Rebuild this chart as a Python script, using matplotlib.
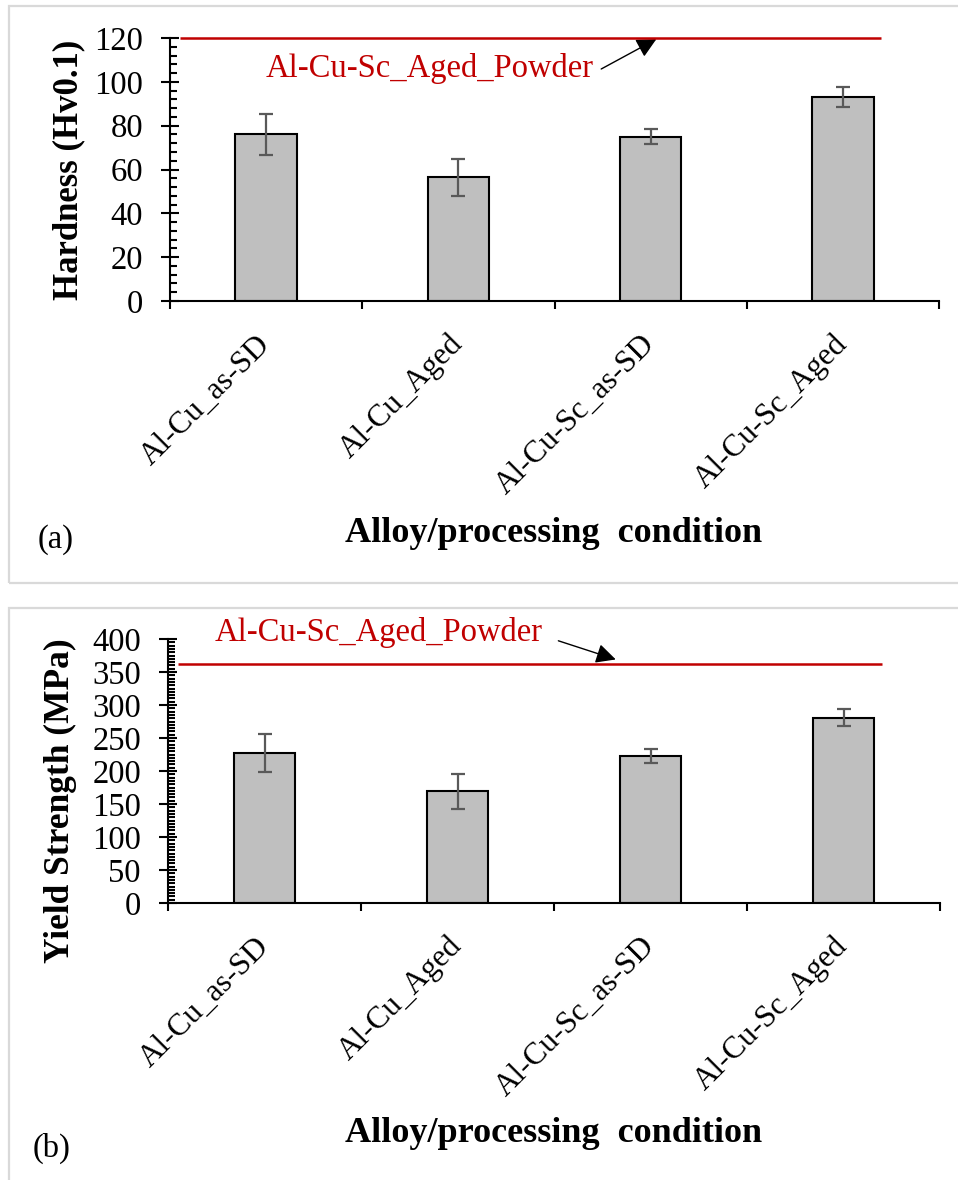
import numpy as np
import matplotlib
matplotlib.use('Agg')
import matplotlib.pyplot as plt
from matplotlib.patches import Rectangle
from matplotlib.ticker import MultipleLocator

# Times-like font (Liberation Serif has Times metrics)
plt.rcParams['font.family'] = ['Liberation Serif', 'DejaVu Serif']

# values
conditions = ['Al-Cu_as-SD', 'Al-Cu_Aged', 'Al-Cu-Sc_as-SD', 'Al-Cu-Sc_Aged']
hardness = [76, 56.5, 75, 93]
hardness_err = [9.5, 8.5, 3.5, 4.5]
hardness_powder = 120
yield_strength = [227, 169, 223, 281]
yield_err = [29, 26.5, 10.5, 13]
yield_powder = 362
powder_label = 'Al-Cu-Sc_Aged_Powder'

W, H = 958, 1180
fig = plt.figure(figsize=(W / 100, H / 100), dpi=100)


def px_rect(x0, y0, x1, y1):
    # pixel box (top-left origin) -> figure fraction [l, b, w, h]
    return [x0 / W, 1 - y1 / H, (x1 - x0) / W, (y1 - y0) / H]


# light grey frames round the two panels
fig.add_artist(Rectangle((9 / W, 1 - 583 / H), 1.0, (583 - 6) / H, transform=fig.transFigure,
                         fill=False, edgecolor='#d9d9d9', linewidth=1.6))
fig.add_artist(Rectangle((9 / W, -0.1), 1.0, 1 - 608 / H + 0.1, transform=fig.transFigure,
                         fill=False, edgecolor='#d9d9d9', linewidth=1.6))

ax1 = fig.add_axes(px_rect(170, 38, 939, 301))
ax2 = fig.add_axes(px_rect(168, 639, 940, 903))

panels = [
    (ax1, hardness, hardness_err, hardness_powder, 120, 20, 4),
    (ax2, yield_strength, yield_err, yield_powder, 400, 50, 5),
]

x = np.arange(len(conditions))
for ax, vals, errs, powder, ymax, major, minor in panels:
    ax.bar(x, vals, width=0.32, color='#bfbfbf', edgecolor='black', linewidth=1.5, zorder=2)
    ax.errorbar(x, vals, yerr=errs, fmt='none', ecolor='#595959', elinewidth=1.6,
                capsize=4.7, capthick=1.6, zorder=3)
    ax.set_xlim(-0.5, len(conditions) - 0.5)
    ax.set_ylim(0, ymax)
    for s in ['top', 'right']:
        ax.spines[s].set_visible(False)
    for s in ['left', 'bottom']:
        ax.spines[s].set_linewidth(1.5)

    ax.yaxis.set_major_locator(MultipleLocator(major))
    ax.yaxis.set_minor_locator(MultipleLocator(minor))
    ax.tick_params(axis='y', which='major', direction='inout', length=13, width=1.5,
                   labelsize=23.5, pad=13)
    ax.tick_params(axis='y', which='minor', direction='in', length=5, width=1.5)

    # outside ticks between categories, inside ticks + labels at bar centres
    ax.set_xticks(np.arange(len(conditions) + 1) - 0.5, [''] * (len(conditions) + 1))
    ax.set_xticks(x, conditions, minor=True, rotation=45, ha='right', va='center',
                  rotation_mode='anchor')
    ax.tick_params(axis='x', which='major', direction='out', length=6, width=1.5)
    ax.tick_params(axis='x', which='minor', direction='in', length=5, width=1.5,
                   labelsize=22.5, pad=28)

    # powder reference line
    ax.hlines(powder, -0.45, 3.2, color='#c00000', linewidth=1.8, zorder=4, clip_on=False)

ax1.annotate(powder_label, xy=(2.03, 119.5), xytext=(0.85, 102.2), ha='center', va='baseline',
             color='#c00000', fontsize=23.5,
             arrowprops=dict(arrowstyle='-|>', color='black', lw=1, mutation_scale=30,
                             relpos=(1.0, 0.35), shrinkA=4, shrinkB=0))
ax2.annotate(powder_label, xy=(1.82, 369), xytext=(0.59, 397), ha='center', va='baseline',
             color='#c00000', fontsize=23.5, annotation_clip=False,
             arrowprops=dict(arrowstyle='-|>', color='black', lw=1, mutation_scale=30,
                             relpos=(1.0, 0.4), shrinkA=10, shrinkB=0))

# axis titles and panel letters
fig.text(69 / W, 1 - 170 / H, 'Hardness (Hv0.1)', rotation=90, ha='center', va='center',
         fontsize=25, fontweight='bold')
fig.text(60 / W, 1 - 801 / H, 'Yield Strength (MPa)', rotation=90, ha='center', va='center',
         fontsize=25.5, fontweight='bold')
fig.text(554 / W, 1 - 542 / H, 'Alloy/processing  condition', ha='center', va='baseline',
         fontsize=26, fontweight='bold')
fig.text(554 / W, 1 - 1142 / H, 'Alloy/processing  condition', ha='center', va='baseline',
         fontsize=26, fontweight='bold')
fig.text(38 / W, 1 - 548 / H, '(a)', ha='left', va='baseline', fontsize=23.5)
fig.text(33 / W, 1 - 1157 / H, '(b)', ha='left', va='baseline', fontsize=23.5)

fig.savefig('out.png', dpi=100)
